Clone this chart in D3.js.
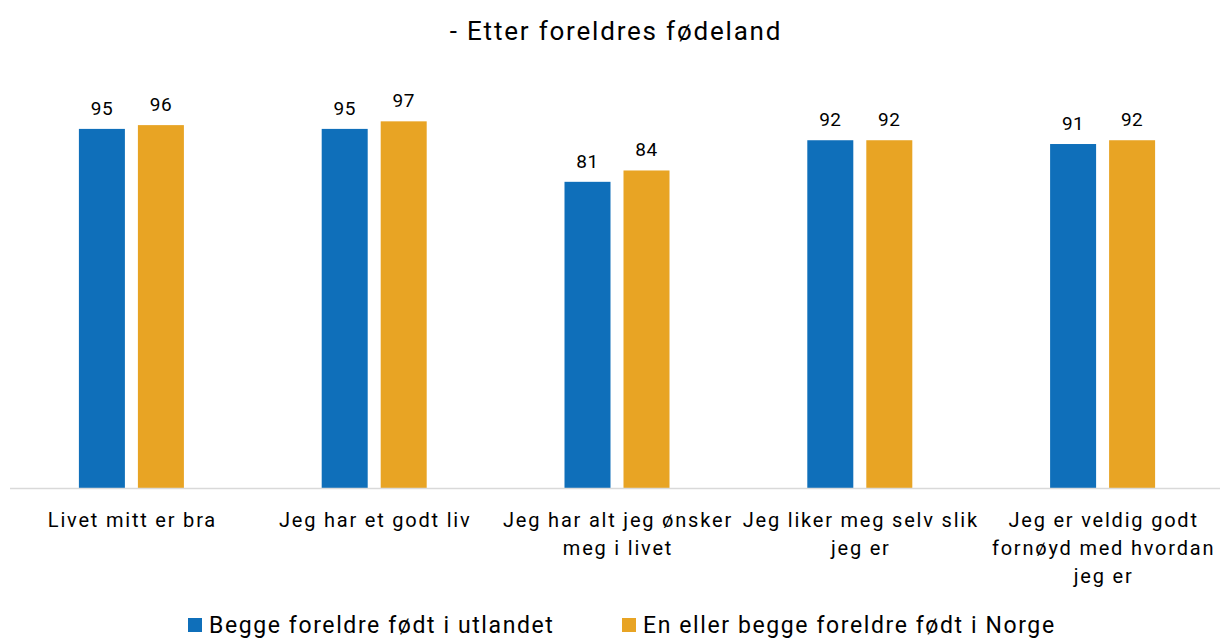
<!DOCTYPE html>
<html>
<head>
<meta charset="utf-8">
<script src="https://cdn.jsdelivr.net/npm/d3@7"></script>
<style>
  body { margin: 0; background: #fff; }
  svg text { font-family: Roboto, "Noto Sans", sans-serif; fill: #000; }
</style>
</head>
<body>
<svg id="chart" width="1220" height="639"></svg>
<script>
const categories = [
  ["Livet mitt er bra"],
  ["Jeg har et godt liv"],
  ["Jeg har alt jeg ønsker", "meg i livet"],
  ["Jeg liker meg selv slik", "jeg er"],
  ["Jeg er veldig godt", "fornøyd med hvordan", "jeg er"]
];
const seriesNames = ["Begge foreldre født i utlandet", "En eller begge foreldre født i Norge"];
const utlandet = [95, 95, 81, 92, 91];
const norge = [96, 97, 84, 92, 92];
const colors = ["#0F6FBA", "#E8A424"];

const svg = d3.select("#chart");
const margin = {top: 110, left: 10, right: -4, bottom: 151};
const W = 1220, H = 639;
const baseY = H - margin.bottom;

const x0 = d3.scaleBand()
  .domain(d3.range(categories.length))
  .range([margin.left, W - margin.right]);
const y = d3.scaleLinear().domain([0, 100]).range([baseY, margin.top]);

const barW = 46, gap = 13;
const series = [utlandet, norge];

svg.append("text")
  .attr("x", 616).attr("y", 40)
  .attr("text-anchor", "middle")
  .style("font-size", "26px")
  .style("letter-spacing", "1.8px")
  .text("- Etter foreldres fødeland");

const groups = svg.selectAll("g.grp")
  .data(categories)
  .enter().append("g")
  .attr("class", "grp")
  .attr("transform", (d, i) => `translate(${x0(i) + x0.bandwidth() / 2},0)`);

series.forEach((vals, s) => {
  const off = s === 0 ? -gap / 2 - barW : gap / 2;
  groups.append("rect")
    .attr("x", off)
    .attr("y", (d, i) => y(vals[i]))
    .attr("width", barW)
    .attr("height", (d, i) => baseY - y(vals[i]))
    .style("fill", colors[s]);
  groups.append("text")
    .attr("x", off + barW / 2)
    .attr("y", (d, i) => y(vals[i]) - 14)
    .attr("text-anchor", "middle")
    .style("font-size", "19px")
    .style("letter-spacing", "0.5px")
    .text((d, i) => vals[i]);
});

svg.append("line")
  .attr("x1", margin.left).attr("x2", W)
  .attr("y1", baseY + 0.5).attr("y2", baseY + 0.5)
  .style("stroke", "#d9d9d9").style("stroke-width", 1.5);

groups.append("text")
  .attr("text-anchor", "middle")
  .style("font-size", "20px")
  .style("letter-spacing", "1.8px")
  .selectAll("tspan")
  .data(d => d)
  .enter().append("tspan")
  .attr("x", 1)
  .attr("y", (d, i) => 527 + i * 28)
  .text(d => d);

const legend = svg.append("g");
const legX = [188, 622];
seriesNames.forEach((n, i) => {
  legend.append("rect")
    .attr("x", legX[i]).attr("y", 618)
    .attr("width", 14).attr("height", 14)
    .style("fill", colors[i]);
  legend.append("text")
    .attr("x", legX[i] + 21).attr("y", 633)
    .style("font-size", "23px")
    .style("letter-spacing", "1.6px")
    .text(n);
});
</script>
</body>
</html>
